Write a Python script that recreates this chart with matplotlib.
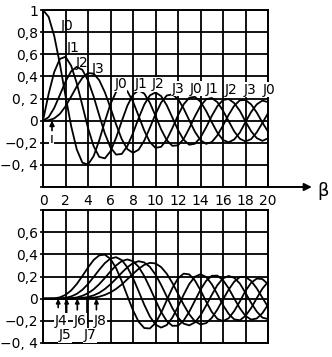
import numpy as np
import matplotlib
matplotlib.use('Agg')
import matplotlib.pyplot as plt

# beta-Achse, Schritt 0,5
beta = np.arange(41) * 0.5

# Werte (oben J0..J3, unten J4..J8)
J0 = [1.000, 0.938, 0.765, 0.512, 0.224, -0.048, -0.260, -0.380, -0.397, -0.321, -0.178, -0.007, 0.151, 0.260, 0.300, 0.266, 0.172, 0.042, -0.090, -0.194, -0.246, -0.237, -0.171, -0.068, 0.048, 0.147, 0.207, 0.215, 0.171, 0.088, -0.014, -0.109, -0.175, -0.196, -0.170, -0.107, -0.013, 0.078, 0.147, 0.181, 0.167]
J1 = [0.0, 0.242, 0.440, 0.558, 0.577, 0.497, 0.339, 0.137, -0.066, -0.231, -0.328, -0.341, -0.277, -0.154, -0.005, 0.135, 0.235, 0.273, 0.245, 0.161, 0.044, -0.079, -0.177, -0.228, -0.223, -0.166, -0.070, 0.038, 0.133, 0.193, 0.205, 0.167, 0.090, -0.004, -0.098, -0.164, -0.188, -0.167, -0.106, -0.021, 0.067]
J2 = [0.0, 0.031, 0.115, 0.232, 0.353, 0.446, 0.486, 0.459, 0.364, 0.218, 0.047, -0.117, -0.243, -0.307, -0.301, -0.230, -0.113, 0.022, 0.145, 0.228, 0.255, 0.222, 0.139, 0.028, -0.085, -0.173, -0.218, -0.209, -0.152, -0.061, 0.042, 0.131, 0.186, 0.196, 0.158, 0.088, -0.008, -0.096, -0.158, -0.183, -0.160]
J3 = [0.0, 0.003, 0.020, 0.061, 0.129, 0.217, 0.309, 0.387, 0.430, 0.425, 0.365, 0.256, 0.115, -0.035, -0.168, -0.258, -0.291, -0.263, -0.181, -0.065, 0.058, 0.163, 0.227, 0.238, 0.195, 0.110, 0.003, -0.100, -0.177, -0.210, -0.194, -0.133, -0.044, 0.052, 0.135, 0.184, 0.186, 0.147, 0.073, -0.017, -0.099]
J4 = [0.0, 0.0, 0.002, 0.012, 0.034, 0.074, 0.132, 0.204, 0.281, 0.349, 0.391, 0.397, 0.358, 0.275, 0.158, 0.024, -0.105, -0.208, -0.265, -0.269, -0.220, -0.128, -0.015, 0.096, 0.183, 0.226, 0.219, 0.165, 0.076, -0.026, -0.119, -0.182, -0.203, -0.177, -0.111, -0.025, 0.070, 0.143, 0.181, 0.177, 0.131]
J5 = [0.0, 0.0, 0.0, 0.002, 0.007, 0.020, 0.043, 0.080, 0.132, 0.195, 0.261, 0.321, 0.362, 0.374, 0.348, 0.283, 0.186, 0.067, -0.055, -0.161, -0.234, -0.261, -0.238, -0.171, -0.073, 0.035, 0.132, 0.198, 0.220, 0.196, 0.131, 0.039, -0.058, -0.137, -0.187, -0.195, -0.155, -0.085, 0.004, 0.090, 0.151]
J6 = [0.0, 0.0, 0.0, 0.0, 0.001, 0.004, 0.011, 0.026, 0.049, 0.084, 0.131, 0.187, 0.246, 0.300, 0.339, 0.354, 0.338, 0.287, 0.204, 0.099, -0.014, -0.120, -0.202, -0.245, -0.244, -0.198, -0.118, -0.019, 0.081, 0.161, 0.206, 0.208, 0.167, 0.094, 0.001, -0.087, -0.156, -0.189, -0.179, -0.131, -0.055]
J7 = [0.0, 0.0, 0.0, 0.0, 0.0, 0.001, 0.003, 0.007, 0.015, 0.030, 0.053, 0.087, 0.130, 0.180, 0.234, 0.283, 0.321, 0.338, 0.327, 0.287, 0.217, 0.124, 0.019, -0.085, -0.170, -0.225, -0.241, -0.214, -0.151, -0.062, 0.034, 0.122, 0.183, 0.205, 0.188, 0.136, 0.052, -0.038, -0.116, -0.171, -0.184]
J8 = [0.0, 0.0, 0.0, 0.0, 0.0, 0.0, 0.0, 0.002, 0.004, 0.009, 0.018, 0.034, 0.057, 0.088, 0.128, 0.175, 0.224, 0.269, 0.305, 0.323, 0.318, 0.285, 0.225, 0.142, 0.045, -0.054, -0.141, -0.204, -0.232, -0.221, -0.174, -0.098, -0.007, 0.081, 0.154, 0.195, 0.196, 0.160, 0.093, 0.009, -0.074]

x_ticks = list(range(0, 21, 2))
y_top = [-0.6, -0.4, -0.2, 0, 0.2, 0.4, 0.6, 0.8, 1.0]
y_top_labels = ['', '\u22120, 4', '\u22120,2', '0', '0, 2', '0,4', '0,6', '0,8', '1']
y_bot = [-0.4, -0.2, 0, 0.2, 0.4, 0.6, 0.8]
y_bot_labels = ['\u22120, 4', '\u22120,2', '0', '0,2', '0,4', '0,6', '']

# Beschriftungen der Kurven
top_names = ['J0', 'J1', 'J2', 'J3', 'J0', 'J1', 'J2', 'J3', 'J0']
top_name_x = [6.9, 8.75, 10.2, 12.0, 13.6, 15.0, 16.75, 18.4, 20.1]
top_name_y = [0.33, 0.33, 0.33, 0.29, 0.29, 0.29, 0.28, 0.28, 0.28]

plt.rcParams['font.family'] = 'DejaVu Sans'
fs = 10
lw = 1.3

fig = plt.figure(figsize=(3.32, 3.57), dpi=100)
ax1 = fig.add_axes([43/332, 1-187/357, 225/332, 177/357])
ax2 = fig.add_axes([43/332, 1-343/357, 225/332, 133/357])

for ax in (ax1, ax2):
    ax.set_xlim(0, 20)
    ax.set_xticks(x_ticks)
    ax.grid(True, color='k', lw=lw)
    ax.set_axisbelow(True)
    for s in ax.spines.values():
        s.set_linewidth(1.4)
    ax.tick_params(axis='y', length=2.5, width=1.2, pad=1, labelsize=fs)
    ax.tick_params(axis='x', length=0, pad=5, labelsize=fs)

# oben
ax1.set_ylim(-0.6, 1.0)
ax1.set_yticks(y_top)
ax1.set_yticklabels(y_top_labels)
ax1.set_xticklabels([str(v) for v in x_ticks])
for J in (J0, J1, J2, J3):
    ax1.plot(beta, J, color='k', lw=lw)

ax1.text(2.1, 0.855, 'J0', fontsize=fs, ha='center', va='center')
ax1.text(2.65, 0.655, 'J1', fontsize=fs, ha='center', va='center')
ax1.text(3.5, 0.52, 'J2', fontsize=fs, ha='center', va='center')
ax1.text(4.9, 0.47, 'J3', fontsize=fs, ha='center', va='center')
for n, x, y in zip(top_names, top_name_x, top_name_y):
    ax1.text(x, y, n, fontsize=fs, ha='center', va='center', clip_on=False,
             bbox=dict(facecolor='white', edgecolor='none', pad=0.3))

ax1.annotate('', xy=(0.8, 0.0), xytext=(0.8, -0.09),
             arrowprops=dict(arrowstyle='-|>', color='k', lw=1.2, mutation_scale=7, shrinkA=0, shrinkB=0))
ax1.text(0.75, -0.17, 'ı', fontsize=fs, ha='center', va='center',
         bbox=dict(facecolor='white', edgecolor='none', pad=0.2))

# Pfeil der beta-Achse
ax1.annotate('', xy=(23.9, -0.6), xytext=(20, -0.6), annotation_clip=False,
             arrowprops=dict(arrowstyle='-|>', color='k', lw=1.4, mutation_scale=11, shrinkA=0, shrinkB=0))
ax1.text(24.4, -0.64, '\u03b2', fontsize=13, ha='left', va='center', clip_on=False)

# unten
ax2.set_ylim(-0.4, 0.8)
ax2.set_yticks(y_bot)
ax2.set_yticklabels(y_bot_labels)
ax2.tick_params(axis='x', labelbottom=False)
for J in (J4, J5, J6, J7, J8):
    ax2.plot(beta, J, color='k', lw=lw)

arrow_x = [1.35, 2.1, 3.05, 4.75]
arrow_end = [-0.08, -0.27, -0.1, -0.1]
for x, y in zip(arrow_x, arrow_end):
    ax2.annotate('', xy=(x, 0.0), xytext=(x, y),
                 arrowprops=dict(arrowstyle='-|>', color='k', lw=1.2, mutation_scale=6, shrinkA=0, shrinkB=0))
ax2.plot([3.95, 3.95], [0.0, -0.22], color='k', lw=1.2)

bot_names = ['J4', 'J5', 'J6', 'J7', 'J8']
bot_x = [1.6, 1.95, 3.3, 4.2, 5.05]
bot_y = [-0.2, -0.33, -0.2, -0.33, -0.2]
for n, x, y in zip(bot_names, bot_x, bot_y):
    ax2.text(x, y, n, fontsize=fs, ha='center', va='center',
             bbox=dict(facecolor='white', edgecolor='none', pad=0.3))

fig.savefig('out.png', dpi=100)
